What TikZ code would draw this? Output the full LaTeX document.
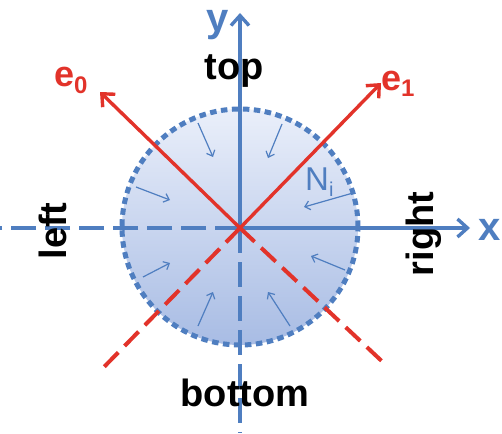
\documentclass[tikz,border=0pt]{standalone}
\usepackage{fontspec}
\setmainfont{Liberation Sans}
\usetikzlibrary{arrows.meta}
\definecolor{axblue}{HTML}{4F7EC0}
\definecolor{ered}{HTML}{E2332A}
\definecolor{ctop}{HTML}{EAEFFA}
\definecolor{cbot}{HTML}{A8BCE4}
\begin{document}
\begin{tikzpicture}[x=1pt,y=-1pt,
  axis/.style={draw=axblue,line width=3.8pt},
  axdash/.style={axis,dash pattern=on 25pt off 9pt},
  evec/.style={draw=ered,line width=3.4pt},
  edash/.style={draw=ered,line width=4pt,dash pattern=on 20pt off 9pt},
  bigtip/.style={-{Straight Barb[length=10pt,width=18pt,line width=3.4pt]}},
  small/.style={draw=axblue,line width=1.2pt,-{Straight Barb[length=5pt,width=9pt,line width=1.2pt]}},
  lab/.style={font=\fontsize{38}{40}\selectfont\bfseries,inner sep=0pt},
  alab/.style={font=\fontsize{40}{42}\selectfont\bfseries,inner sep=0pt,text=axblue},
  elab/.style={font=\fontsize{36}{38}\selectfont\bfseries,inner sep=0pt,text=ered}]
\useasboundingbox (0,0) rectangle (502,433);
\coordinate (O) at (240,227);
% disk
\shade[top color=ctop,bottom color=cbot] (O) circle[radius=118pt];
\draw[draw=axblue,line width=5pt,dash pattern=on 6.5pt off 4.5pt] (O) circle[radius=118pt];
% inward arrows
\coordinate (a1s) at (198,123); \coordinate (a1e) at (213,157);
\coordinate (a2s) at (282,124); \coordinate (a2e) at (268,158);
\coordinate (a3s) at (136,187); \coordinate (a3e) at (170,200);
\coordinate (a4s) at (353,193); \coordinate (a4e) at (304,207);
\coordinate (a5s) at (143,277); \coordinate (a5e) at (170,263);
\coordinate (a6s) at (345,270); \coordinate (a6e) at (311,256);
\coordinate (a7s) at (198,326); \coordinate (a7e) at (213,292);
\coordinate (a8s) at (290,326); \coordinate (a8e) at (268,292);
\foreach \i in {1,...,8} {\draw[small] (a\i s) -- (a\i e);}
% axes
\coordinate (ytip) at (240,13);
\coordinate (yend) at (240,433);
\coordinate (xtip) at (470,228);
\coordinate (xend) at (0,228);
\coordinate (Ox) at (240,228);
\draw[axis,bigtip] (Ox) -- (ytip);
\draw[axdash] (Ox) -- (yend);
\draw[axis,bigtip] (Ox) -- (xtip);
\draw[axdash] (Ox) -- (xend);
% red vectors
\coordinate (e1tip) at (381,83);
\coordinate (e0tip) at (100,92);
\coordinate (e1neg) at (103,368);
\coordinate (e0neg) at (387,366);
\draw[evec,bigtip] (Ox) -- (e1tip);
\draw[evec,bigtip] (Ox) -- (e0tip);
\draw[edash] (Ox) -- (e1neg);
\draw[edash] (Ox) -- (e0neg);
% labels
\node[lab,anchor=base] (top) at (234,80) {top};
\node[lab,anchor=base] (bottom) at (245,406) {bottom};
\node[lab,rotate=90] (left) at (53,231) {left};
\node[lab,rotate=90] (right) at (424,234) {right};
\node[alab,anchor=base] (ylab) at (218,32) {y};
\node[alab] (xlab) at (490,230) {x};
\node[elab,anchor=base west] (e0lab) at (54,87) {e\raisebox{-6pt}{\fontsize{24}{24}\selectfont 0}};
\node[elab,anchor=base west] (e1lab) at (381,90) {e\raisebox{-6pt}{\fontsize{24}{24}\selectfont 1}};
\node[inner sep=0pt,text=axblue,anchor=base west,font=\fontsize{33}{35}\selectfont] (Ni) at (305,190) {N\raisebox{-6pt}{\fontsize{20}{20}\selectfont i}};
\end{tikzpicture}
\end{document}
